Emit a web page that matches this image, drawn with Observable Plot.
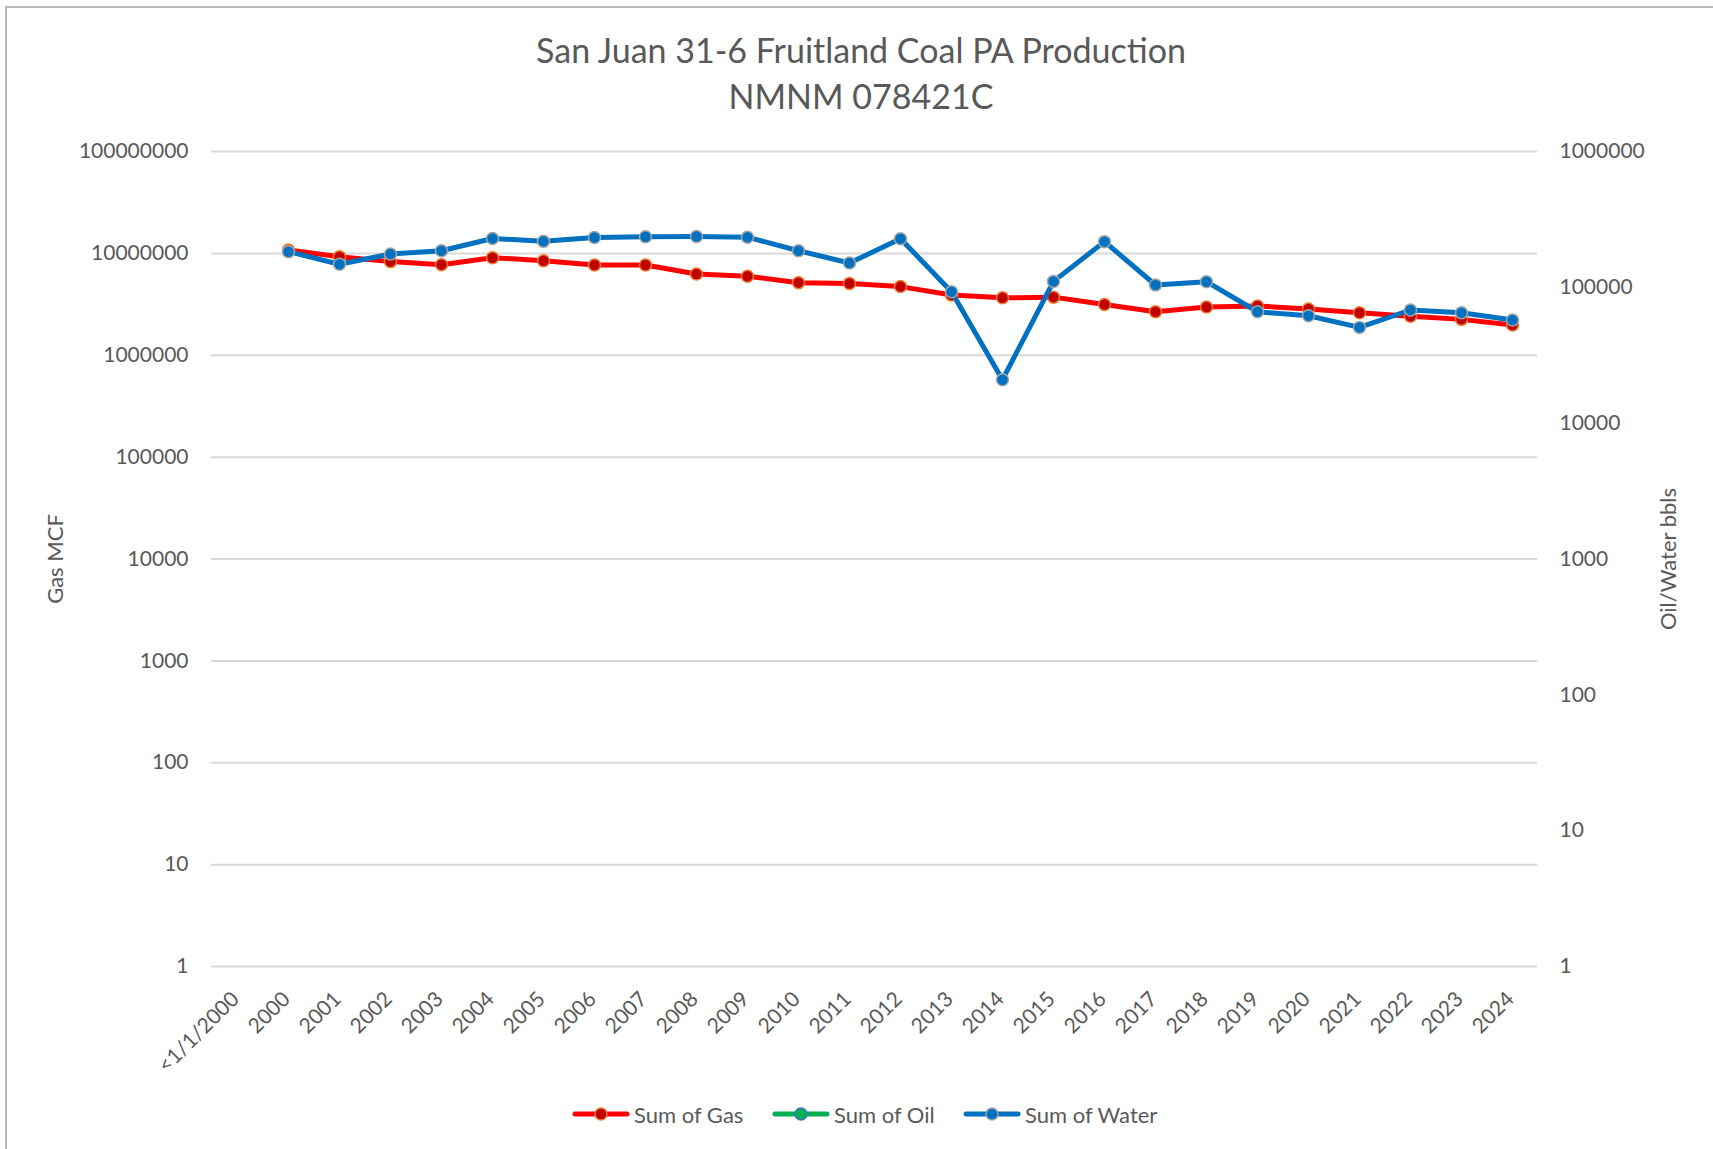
<!DOCTYPE html>
<html>
<head>
<meta charset="utf-8">
<script src="https://cdn.jsdelivr.net/npm/d3@7"></script>
<script src="https://cdn.jsdelivr.net/npm/@observablehq/plot@0.6"></script>
<style>
  html, body { margin: 0; padding: 0; background: #fff; }
  #root { position: relative; width: 1713px; height: 1149px; overflow: hidden; font-family: Lato, "Open Sans", sans-serif; color: #595959; }
  #frame { position: absolute; left: 5px; top: 6px; right: -10px; bottom: -10px; border-left: 2px solid #b8b8b8; border-top: 2px solid #b8b8b8; }
  #title { position: absolute; left: 461px; width: 800px; top: 27px; text-align: center; font-size: 34px; line-height: 46px; white-space: nowrap; }
  .plot { position: absolute; left: 0; top: 120px; }
  #legend { position: absolute; top: 1100px; left: 0; width: 1713px; height: 28px; }
  .item { position: absolute; top: 0; display: flex; align-items: center; height: 28px; font-size: 22px; white-space: nowrap; }
  .item svg { margin-right: 3px; }
</style>
</head>
<body>
<div id="root">
  <div id="frame"></div>
  <div id="title">San Juan 31-6 Fruitland Coal PA Production<br>NMNM 078421C</div>
  <div id="plotA" class="plot"></div>
  <div id="plotB" class="plot"></div>
  <div id="legend"></div>
</div>
<script>
// ---- data ----
const categories = ["<1/1/2000","2000","2001","2002","2003","2004","2005","2006","2007","2008","2009","2010","2011","2012","2013","2014","2015","2016","2017","2018","2019","2020","2021","2022","2023","2024"];
const gas   = [null, 10.8e6, 9.27e6, 8.3e6, 7.75e6, 9.07e6, 8.48e6, 7.7e6, 7.7e6, 6.28e6, 5.96e6, 5.16e6, 5.06e6, 4.72e6, 3.9e6, 3.66e6, 3.72e6, 3.15e6, 2.67e6, 2.97e6, 3.05e6, 2.84e6, 2.61e6, 2.41e6, 2.25e6, 1.98e6];
const oil   = [null, null, null, null, null, null, null, null, null, null, null, null, null, null, null, null, null, null, null, null, null, null, null, null, null, null];
const water = [null, 183e3, 148e3, 176e3, 186e3, 229e3, 218e3, 233e3, 236e3, 237e3, 234e3, 186e3, 151e3, 228e3, 92.9e3, 20.9e3, 110.6e3, 217e3, 104e3, 110e3, 66.1e3, 61.8e3, 50.7e3, 68.1e3, 65.1e3, 57.4e3];
const leftTicks  = [1, 10, 100, 1000, 10000, 100000, 1000000, 10000000, 100000000];
const rightTicks = [1, 10, 100, 1000, 10000, 100000, 1000000];
const seriesNames = ["Sum of Gas", "Sum of Oil", "Sum of Water"];

const toRows = vals => categories.map((c, i) => ({cat: c, v: vals[i]})).filter(d => d.v != null && d.v > 0);
const gasRows = toRows(gas), waterRows = toRows(water), oilRows = toRows(oil);

const common = {
  width: 1713, height: 960,
  marginTop: 31, marginBottom: 114, marginLeft: 211, marginRight: 176,
  style: {fontFamily: "Lato, 'Open Sans', sans-serif", background: "transparent", color: "#595959", overflow: "visible"},
  x: {type: "point", domain: categories, padding: 0.5, axis: null}
};
const txt = {fill: "#595959", fontSize: 21};

const plotA = Plot.plot({
  ...common,
  y: {type: "log", domain: [1, 1e8], axis: null},
  marks: [
    Plot.gridY(leftTicks, {stroke: "#d9d9d9", strokeWidth: 2, strokeOpacity: 1}),
    Plot.axisY(leftTicks, {anchor: "left", label: null, tickSize: 0, tickPadding: 23, tickFormat: d => String(d), fontSize: 21, fill: "#595959"}),
    Plot.text(categories, {x: d => d, frameAnchor: "bottom", dy: 29, dx: -2, rotate: -45, textAnchor: "end", lineAnchor: "middle", text: d => d, ...txt}),
    Plot.text(["Gas MCF"], {frameAnchor: "left", dx: -156, rotate: -90, textAnchor: "middle", lineAnchor: "middle", text: d => d, ...txt, fontSize: 22}),
    Plot.line(gasRows, {x: "cat", y: "v", stroke: "#ff0000", strokeWidth: 5, strokeLinejoin: "round", strokeLinecap: "round"}),
    Plot.dot(gasRows, {x: "cat", y: "v", r: 6, fill: "#c00000", stroke: "#ed7d31", strokeWidth: 1.5})
  ]
});
document.getElementById("plotA").appendChild(plotA);

const plotB = Plot.plot({
  ...common,
  y: {type: "log", domain: [1, 1e6], axis: null},
  marks: [
    Plot.axisY(rightTicks, {anchor: "right", label: null, tickSize: 0, tickPadding: 22, tickFormat: d => String(d), fontSize: 21, fill: "#595959"}),
    Plot.text(["Oil/Water bbls"], {frameAnchor: "right", dx: 131, rotate: -90, textAnchor: "middle", lineAnchor: "middle", text: d => d, ...txt, fontSize: 22}),
    Plot.line(oilRows, {x: "cat", y: "v", stroke: "#00b050", strokeWidth: 5}),
    Plot.line(waterRows, {x: "cat", y: "v", stroke: "#0070c0", strokeWidth: 5, strokeLinejoin: "round", strokeLinecap: "round"}),
    Plot.dot(waterRows, {x: "cat", y: "v", r: 6, fill: "#0070c0", stroke: "#a5a5a5", strokeWidth: 1.5})
  ]
});
document.getElementById("plotB").appendChild(plotB);

// ---- legend ----
const legendStyles = [
  {line: "#ff0000", fill: "#c00000", stroke: "#ed7d31", left: 571},
  {line: "#00b050", fill: "#00b050", stroke: "#4472c4", left: 771},
  {line: "#0070c0", fill: "#0070c0", stroke: "#a5a5a5", left: 962}
];
const legend = document.getElementById("legend");
seriesNames.forEach((name, i) => {
  const s = legendStyles[i];
  const item = document.createElement("div");
  item.className = "item";
  item.style.left = s.left + "px";
  item.innerHTML = `<svg width="60" height="20"><line x1="4" x2="56" y1="10" y2="10" stroke="${s.line}" stroke-width="5" stroke-linecap="round"/><circle cx="30" cy="10" r="6" fill="${s.fill}" stroke="${s.stroke}" stroke-width="1.5"/></svg><span>${name}</span>`;
  legend.appendChild(item);
});
</script>
</body>
</html>
